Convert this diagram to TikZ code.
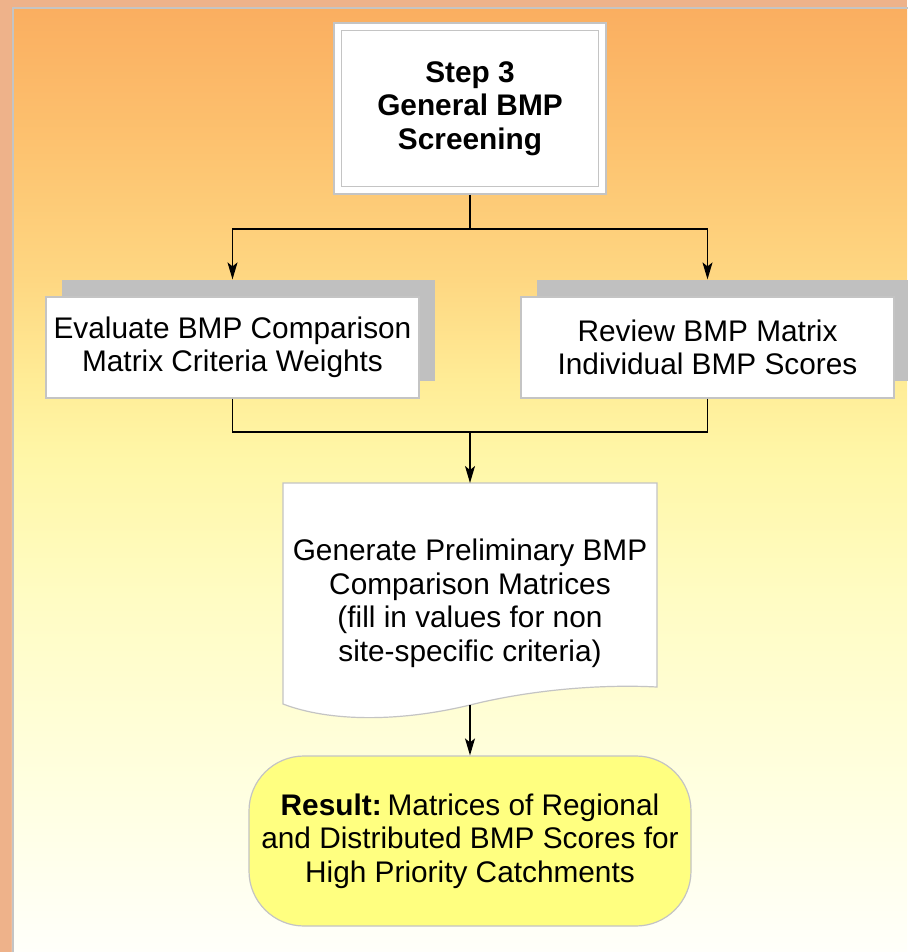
\documentclass[tikz,border=0pt]{standalone}
\usepackage{fontspec}
\setmainfont{Liberation Sans}
\usetikzlibrary{arrows.meta,shadows}

\definecolor{marginfill}{RGB}{238,178,138}
\definecolor{panelline}{RGB}{196,196,196}
\definecolor{boxline}{RGB}{196,196,196}
\definecolor{shadowgray}{RGB}{192,192,192}
\definecolor{resultfill}{RGB}{255,255,128}
\definecolor{bgA}{RGB}{255,255,250}
\definecolor{bgB}{RGB}{255,255,226}
\definecolor{bgC}{RGB}{255,252,196}
\definecolor{bgD}{RGB}{255,247,168}
\definecolor{bgE}{RGB}{255,236,150}
\definecolor{bgF}{RGB}{254,215,130}
\definecolor{bgG}{RGB}{253,195,112}
\definecolor{bgH}{RGB}{250,174,96}

% panel background: orange at the top fading through yellow to white
\pgfdeclareverticalshading{panelshade}{895pt}{%
  color(0pt)=(bgA); color(152pt)=(bgB); color(352pt)=(bgC);
  color(492pt)=(bgD); color(572pt)=(bgE); color(672pt)=(bgF);
  color(802pt)=(bgG); color(945pt)=(bgH)}

\tikzset{
  txt/.style={font=\fontsize{29.8}{33.5}\selectfont, align=center},
  stepbox/.style={txt, font=\bfseries\fontsize{29.8}{33.5}\selectfont,
    draw=boxline, line width=1.2pt, fill=white,
    minimum width=272pt, minimum height=171pt},
  taskbox/.style={txt, draw=boxline, line width=1.2pt, fill=white,
    minimum width=373pt, minimum height=101pt,
    general shadow={fill=shadowgray, shadow xshift=16pt, shadow yshift=17pt}},
  resultbox/.style={txt, draw=boxline, line width=1.2pt, fill=resultfill,
    rounded corners=55pt, minimum width=442pt, minimum height=170pt},
  link/.style={line width=1.4pt, black},
  arrow/.style={link, -{Stealth[length=17pt, width=10pt, inset=4pt]}},
}

\begin{document}
\begin{tikzpicture}[x=1pt, y=-1pt]
  % page and margin
  \fill[marginfill] (0,0) rectangle (907,952);
  \useasboundingbox (0,0) rectangle (907,952);

  % shaded panel with its frame
  \node[inner sep=0pt, outer sep=0pt, anchor=north west] (panel) at (12,7)
    {\pgfuseshading{panelshade}};
  \draw[panelline, line width=2pt] (13,8) rectangle (920,965);

  % step header with double frame
  \node[stepbox] (step3) at (470,108.5) {Step 3\\General BMP\\Screening};
  \draw[boxline, line width=1.2pt]
    ([shift={(8pt,-8pt)}]step3.north west) rectangle ([shift={(-8pt,8pt)}]step3.south east);

  % the two review tasks
  \node[taskbox] (eval) at (232.5,347.5) {Evaluate BMP Comparison\\Matrix Criteria Weights};
  \node[taskbox] (review) at (707.5,347.5) {Review BMP Matrix\\Individual BMP Scores};

  % document shape with wavy bottom edge
  \filldraw[fill=white, draw=boxline, line width=1.2pt]
    (283,483) -- (657,483) -- (657,687)
    .. controls (600,684) and (530,690) .. (470,705)
    .. controls (400,722) and (330,722) .. (283,704) -- cycle;
  \node[txt] (doc) at (470,603.5)
    {Generate Preliminary BMP\\Comparison Matrices\\(fill in values for non\\site-specific criteria)};
  \coordinate (doctop) at (470,483);
  \coordinate (docbot) at (470,705);

  % final result
  \node[resultbox] (res) at (470,841)
    {\textbf{Result:}\hspace{0.2em}Matrices of Regional\\and Distributed BMP Scores for\\High Priority Catchments};

  % connectors
  \coordinate (split) at (470,229);
  \coordinate (merge) at (470,432);
  \draw[link] (step3.south) -- (split);
  \draw[arrow] (split) -| ([yshift=17pt]eval.north);
  \draw[arrow] (split) -| ([yshift=17pt]review.north);
  \draw[link] (eval.south) |- (merge);
  \draw[link] (review.south) |- (merge);
  \draw[arrow] (merge) -- (doctop);
  \draw[arrow] (docbot) -- (res.north);
\end{tikzpicture}
\end{document}
